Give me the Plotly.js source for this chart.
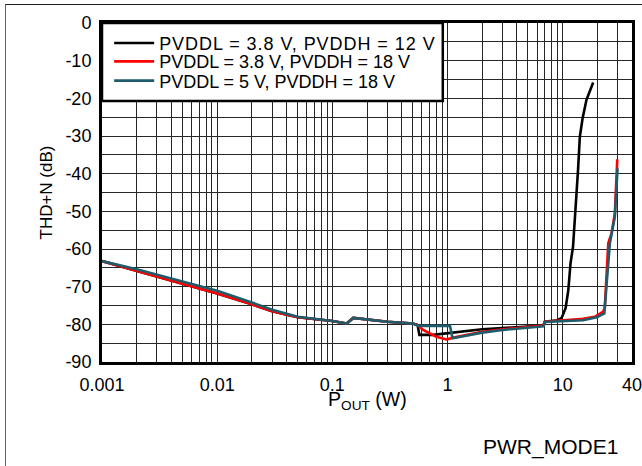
<!DOCTYPE html>
<html>
<head>
<meta charset="utf-8">
<script src="https://cdn.plot.ly/plotly-3.0.1.min.js"></script>
<style>
  html, body { margin: 0; padding: 0; background: #fff; overflow: hidden; }
  #wrap { position: relative; width: 642px; height: 466px; }
  #chart { position: absolute; left: 0; top: 0; width: 642px; height: 466px; }
  #frame { position: absolute; left: 5px; top: 4px; width: 700px; height: 520px;
           border-left: 1px solid #666; border-top: 1px solid #222; pointer-events: none; }
  .legendtext { letter-spacing: 0.95px; }
</style>
</head>
<body>
<div id="wrap"><div id="chart"></div><div id="frame"></div></div>
<script>
// ---- data ----
const seriesNames = ['PVDDL = 3.8 V, PVDDH = 12 V', 'PVDDL = 3.8 V, PVDDH = 18 V', 'PVDDL = 5 V, PVDDH = 18 V'];

const xBlack = [0.001, 0.002, 0.005, 0.01, 0.02, 0.03, 0.05, 0.1, 0.133, 0.152, 0.3, 0.5, 0.55, 0.57, 0.75, 1.0, 1.5, 2, 3, 5, 6.8, 7.0, 9.0, 9.8, 10.6, 11.2, 11.7, 12.3, 13.0, 13.6, 14.1, 14.9, 16.1, 18.4];
const yBlack = [-63.2, -65.8, -69.2, -71.8, -74.7, -76.5, -78.1, -79.1, -79.8, -78.3, -79.3, -79.8, -80.2, -82.8, -82.8, -82.4, -81.8, -81.3, -81.0, -80.6, -80.3, -79.3, -78.9, -78.3, -75.7, -70.9, -63.8, -59.4, -49.6, -39.0, -30.2, -25.3, -20.4, -15.8];

const xRed = [0.001, 0.002, 0.005, 0.01, 0.02, 0.03, 0.05, 0.1, 0.133, 0.152, 0.3, 0.5, 0.55, 0.615, 0.8, 0.98, 1.1, 1.5, 2, 3, 5, 6.8, 7.0, 10, 15, 19.0, 22.5, 23.2, 24.9, 26.6, 28.4, 29.8];
const yRed = [-63.2, -65.8, -69.2, -71.8, -74.7, -76.5, -78.1, -79.1, -79.8, -78.3, -79.3, -79.8, -80.2, -81.5, -83.3, -84.0, -83.6, -82.8, -82.0, -81.3, -80.7, -80.3, -79.3, -79.0, -78.5, -78.0, -76.6, -75.7, -58.5, -55.8, -50.5, -36.2];

const xTeal = [0.001, 0.002, 0.005, 0.01, 0.02, 0.03, 0.05, 0.1, 0.133, 0.152, 0.3, 0.5, 0.557, 1.05, 1.107, 1.5, 2, 3, 5, 6.8, 7.0, 10, 15, 19.8, 23.0, 25.7, 28.4, 29.97];
const yTeal = [-63.2, -65.4, -68.6, -71.1, -74.2, -76.1, -78.0, -79.1, -79.8, -78.3, -79.3, -79.8, -80.4, -80.4, -83.7, -83.0, -82.2, -81.5, -80.9, -80.5, -79.4, -79.2, -78.9, -78.1, -77.1, -58.5, -51.4, -38.6];

const seriesColors = ['#000000', '#ff0000', '#1f5c6b'];

const xLabelVals = [0.001, 0.01, 0.1, 1, 10, 40];
const xLabels = ['0.001', '0.01', '0.1', '1', '10', '40'];
const yLabelVals = [-90, -80, -70, -60, -50, -40, -30, -20, -10, 0];
const yLabels = ['-90', '-80', '-70', '-60', '-50', '-40', '-30', '-20', '-10', '0'];

// ---- grid positions (log decades with 1..9 subdivisions; every 5 dB) ----
const xGrid = [];
[0.001, 0.01, 0.1, 1].forEach(d => { for (let m = 1; m <= 9; m++) xGrid.push(+(d * m).toPrecision(3)); });
[10, 20, 30, 40].forEach(v => xGrid.push(v));
const xGridText = xGrid.map(v => { const i = xLabelVals.indexOf(v); return i >= 0 ? xLabels[i] : ''; });
const yGrid = [];
for (let v = -90; v <= 0; v += 5) yGrid.push(v);
const yGridText = yGrid.map(v => { const i = yLabelVals.indexOf(v); return i >= 0 ? yLabels[i] : ''; });

const FONT = 'Liberation Sans, Arial, sans-serif';
const legendIds = ['legend', 'legend2', 'legend3'];
const rowY = [0.940, 0.886, 0.829];
const xs = [xBlack, xRed, xTeal], ys = [yBlack, yRed, yTeal];
const traces = xs.map((x, i) => ({
  x: x, y: ys[i], type: 'scatter', mode: 'lines', name: seriesNames[i],
  line: { color: seriesColors[i], width: 2.6 }, legend: legendIds[i]
}));

function legendCfg(i) {
  return {
    x: 0.0135, y: rowY[i], xanchor: 'left', yanchor: 'middle',
    bgcolor: 'rgba(0,0,0,0)', borderwidth: 0, itemwidth: 40,
    font: { family: FONT, size: 18, color: '#000' }
  };
}

const layout = {
  width: 642, height: 466,
  margin: { l: 102, r: 10, t: 23, b: 104 },
  paper_bgcolor: '#ffffff', plot_bgcolor: '#ffffff',
  font: { family: FONT, size: 18, color: '#000' },
  showlegend: true,
  legend: legendCfg(0), legend2: legendCfg(1), legend3: legendCfg(2),
  shapes: [{
    type: 'rect', xref: 'paper', yref: 'paper', x0: 0, x1: 0.643, y0: 0.770, y1: 1,
    fillcolor: '#ffffff', line: { color: '#000', width: 2.5 }, layer: 'above'
  }],
  xaxis: {
    type: 'log', range: [Math.log10(0.001), Math.log10(40)],
    tickmode: 'array', tickvals: xGrid, ticktext: xGridText,
    ticks: '', ticklabelstandoff: 4, ticklabeloverflow: 'allow', tickangle: 0,
    showgrid: true, gridcolor: '#262626', gridwidth: 1,
    showline: true, linecolor: '#000', linewidth: 3, mirror: true,
    zeroline: false,
    tickfont: { family: FONT, size: 18, color: '#000' }
  },
  yaxis: {
    range: [-90, 0],
    tickmode: 'array', tickvals: yGrid, ticktext: yGridText,
    ticks: '', ticklabelstandoff: 4,
    showgrid: true, gridcolor: '#262626', gridwidth: 1,
    showline: true, linecolor: '#000', linewidth: 3, mirror: true,
    zeroline: false,
    tickfont: { family: FONT, size: 18, color: '#000' },
    title: { text: 'THD+N (dB)', font: { family: FONT, size: 17, color: '#000' }, standoff: 9 }
  },
  annotations: [{
    text: 'P<sub>OUT</sub> (W)', xref: 'paper', yref: 'paper', x: 0.5, y: -0.113,
    xanchor: 'center', yanchor: 'middle', showarrow: false,
    font: { family: FONT, size: 19.5, color: '#000' }
  }, {
    text: 'PWR_MODE1', xref: 'paper', yref: 'paper', x: 0.977, y: -0.251,
    xanchor: 'right', yanchor: 'middle', showarrow: false,
    font: { family: FONT, size: 21, color: '#000' }
  }]
};

Plotly.newPlot('chart', traces, layout, { staticPlot: true, displayModeBar: false });
</script>
</body>
</html>
